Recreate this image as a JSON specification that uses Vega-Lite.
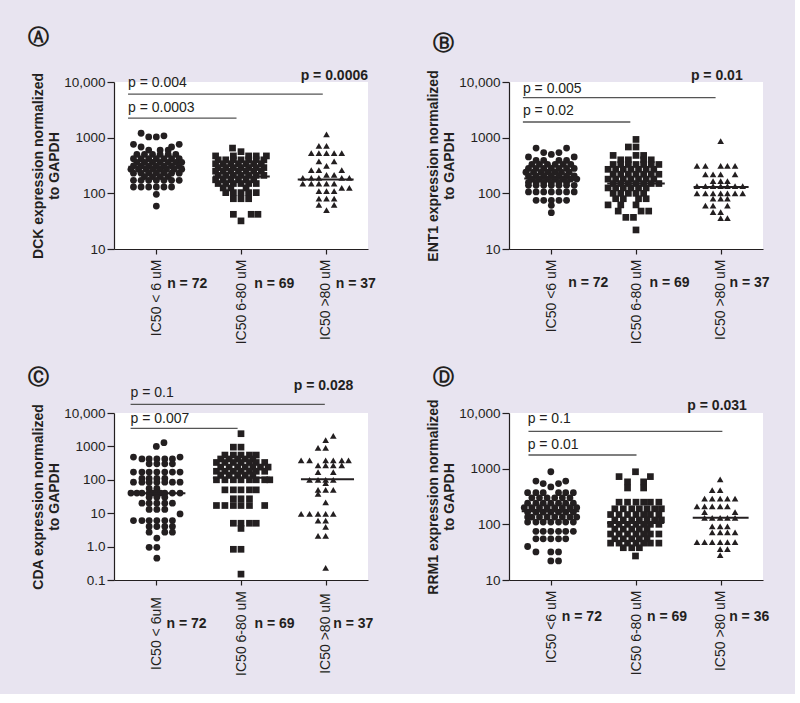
{
"$schema":"https://vega.github.io/schema/vega-lite/v6.json",
"background":"#e8e4f0",
"padding":{"left":27,"top":27,"right":25,"bottom":18},
"columns":2,
"spacing":{"row":164,"column":141},
"bounds":"flush",
"concat":[
{
"width":254,"height":167,
"title":{"text":"Ⓐ","offset":21,"dx":-4},
"encoding":{
"x":{"field":"x","type":"quantitative","scale":{"domain":[0.5,3.5],"nice":false,"zero":false},"axis":{"title":null,"values":[1,2,3],"labelExpr":"datum.value == 1 ? 'IC50 < 6 uM' : datum.value == 2 ? 'IC50 6-80 uM' : 'IC50 >80 uM'"}},
"y":{"field":"y","type":"quantitative","scale":{"type":"log","domain":[10,10000],"nice":false},"axis":{"title":["DCK expression normalized","to GAPDH"],"values":[10,100,1000,10000],"labelExpr":"datum.value == 10000 ? '10,000' : format(datum.value, '~g')"}}
},
"layer":[
{"data":{"values":[
{"g":1,"x":0.82,"y":1200},{"g":1,"x":0.91,"y":1030},{"g":1,"x":1.0,"y":1030},{"g":1,"x":1.09,"y":1080},
{"g":1,"x":0.73,"y":760},{"g":1,"x":1.27,"y":760},{"g":1,"x":0.82,"y":680},{"g":1,"x":1.18,"y":680},
{"g":1,"x":0.91,"y":600},{"g":1,"x":1.045,"y":600},{"g":1,"x":1.14,"y":600},
{"g":1,"x":0.77,"y":500},{"g":1,"x":0.86,"y":500},{"g":1,"x":0.955,"y":500},{"g":1,"x":1.045,"y":500},{"g":1,"x":1.14,"y":500},{"g":1,"x":1.23,"y":500},
{"g":1,"x":0.73,"y":420},{"g":1,"x":0.82,"y":420},{"g":1,"x":0.91,"y":420},{"g":1,"x":1.0,"y":420},{"g":1,"x":1.09,"y":420},{"g":1,"x":1.18,"y":420},{"g":1,"x":1.27,"y":420},
{"g":1,"x":0.77,"y":360},{"g":1,"x":0.86,"y":360},{"g":1,"x":0.955,"y":360},{"g":1,"x":1.045,"y":360},{"g":1,"x":1.14,"y":360},{"g":1,"x":1.23,"y":360},{"g":1,"x":1.3,"y":360},
{"g":1,"x":0.73,"y":310},{"g":1,"x":0.82,"y":310},{"g":1,"x":0.91,"y":310},{"g":1,"x":1.0,"y":310},{"g":1,"x":1.09,"y":310},{"g":1,"x":1.18,"y":310},{"g":1,"x":1.27,"y":310},
{"g":1,"x":0.7,"y":270},{"g":1,"x":0.79,"y":270},{"g":1,"x":0.88,"y":270},{"g":1,"x":0.96,"y":270},{"g":1,"x":1.04,"y":270},{"g":1,"x":1.12,"y":270},{"g":1,"x":1.21,"y":270},{"g":1,"x":1.3,"y":270},
{"g":1,"x":0.73,"y":230},{"g":1,"x":0.82,"y":230},{"g":1,"x":0.91,"y":230},{"g":1,"x":1.0,"y":230},{"g":1,"x":1.09,"y":230},{"g":1,"x":1.18,"y":230},{"g":1,"x":1.27,"y":230},
{"g":1,"x":0.86,"y":200},{"g":1,"x":0.955,"y":200},{"g":1,"x":1.045,"y":200},{"g":1,"x":1.14,"y":200},
{"g":1,"x":0.73,"y":171},{"g":1,"x":0.82,"y":171},{"g":1,"x":0.91,"y":171},{"g":1,"x":1.0,"y":171},{"g":1,"x":1.09,"y":171},{"g":1,"x":1.18,"y":171},{"g":1,"x":1.27,"y":171},
{"g":1,"x":0.73,"y":130},{"g":1,"x":0.82,"y":130},{"g":1,"x":0.91,"y":130},{"g":1,"x":1.0,"y":130},{"g":1,"x":1.09,"y":130},{"g":1,"x":1.18,"y":130},
{"g":1,"x":1.0,"y":96},{"g":1,"x":1.0,"y":59},
{"g":2,"x":1.9,"y":650},{"g":2,"x":2.0,"y":560},
{"g":2,"x":1.7,"y":470},{"g":2,"x":1.91,"y":470},{"g":2,"x":2.09,"y":470},{"g":2,"x":2.18,"y":470},{"g":2,"x":2.3,"y":470},
{"g":2,"x":1.73,"y":400},{"g":2,"x":1.82,"y":400},{"g":2,"x":1.91,"y":400},{"g":2,"x":2.0,"y":400},{"g":2,"x":2.09,"y":400},{"g":2,"x":2.18,"y":400},{"g":2,"x":2.27,"y":400},
{"g":2,"x":1.7,"y":340},{"g":2,"x":1.79,"y":340},{"g":2,"x":1.88,"y":340},{"g":2,"x":1.97,"y":340},{"g":2,"x":2.06,"y":340},{"g":2,"x":2.15,"y":340},{"g":2,"x":2.24,"y":340},
{"g":2,"x":1.73,"y":290},{"g":2,"x":1.82,"y":290},{"g":2,"x":1.91,"y":290},{"g":2,"x":2.0,"y":290},{"g":2,"x":2.09,"y":290},{"g":2,"x":2.18,"y":290},{"g":2,"x":2.27,"y":290},
{"g":2,"x":1.7,"y":250},{"g":2,"x":1.79,"y":250},{"g":2,"x":1.88,"y":250},{"g":2,"x":1.97,"y":250},{"g":2,"x":2.06,"y":250},{"g":2,"x":2.15,"y":250},{"g":2,"x":2.24,"y":250},
{"g":2,"x":1.73,"y":210},{"g":2,"x":1.82,"y":210},{"g":2,"x":1.91,"y":210},{"g":2,"x":2.0,"y":210},{"g":2,"x":2.09,"y":210},{"g":2,"x":2.18,"y":210},{"g":2,"x":2.27,"y":210},
{"g":2,"x":1.7,"y":175},{"g":2,"x":1.79,"y":175},{"g":2,"x":1.88,"y":175},{"g":2,"x":1.97,"y":175},{"g":2,"x":2.06,"y":175},{"g":2,"x":2.15,"y":175},
{"g":2,"x":1.73,"y":150},{"g":2,"x":1.82,"y":150},{"g":2,"x":1.91,"y":150},{"g":2,"x":2.0,"y":150},{"g":2,"x":2.09,"y":150},{"g":2,"x":2.18,"y":150},
{"g":2,"x":1.79,"y":125},{"g":2,"x":1.88,"y":125},{"g":2,"x":2.06,"y":125},
{"g":2,"x":1.82,"y":103},{"g":2,"x":1.91,"y":103},{"g":2,"x":2.0,"y":103},{"g":2,"x":2.09,"y":103},{"g":2,"x":2.18,"y":103},
{"g":2,"x":1.91,"y":80},{"g":2,"x":2.0,"y":80},{"g":2,"x":2.09,"y":80},
{"g":2,"x":1.91,"y":42},{"g":2,"x":2.12,"y":42},{"g":2,"x":2.2,"y":42},{"g":2,"x":2.0,"y":32},
{"g":3,"x":3.01,"y":1150},{"g":3,"x":2.92,"y":710},{"g":3,"x":3.01,"y":710},
{"g":3,"x":2.83,"y":530},{"g":3,"x":2.92,"y":530},{"g":3,"x":3.01,"y":530},{"g":3,"x":3.1,"y":530},{"g":3,"x":3.19,"y":530},
{"g":3,"x":2.92,"y":375},{"g":3,"x":3.1,"y":375},{"g":3,"x":3.01,"y":310},
{"g":3,"x":2.83,"y":260},{"g":3,"x":2.92,"y":260},{"g":3,"x":3.19,"y":260},
{"g":3,"x":3.01,"y":215},{"g":3,"x":3.1,"y":215},
{"g":3,"x":2.73,"y":190},{"g":3,"x":2.83,"y":190},{"g":3,"x":2.92,"y":190},{"g":3,"x":3.19,"y":190},{"g":3,"x":3.28,"y":190},
{"g":3,"x":2.73,"y":150},{"g":3,"x":2.83,"y":150},{"g":3,"x":2.92,"y":150},{"g":3,"x":3.01,"y":150},{"g":3,"x":3.1,"y":150},
{"g":3,"x":3.19,"y":125},{"g":3,"x":3.28,"y":125},
{"g":3,"x":2.92,"y":110},{"g":3,"x":3.01,"y":110},{"g":3,"x":3.1,"y":110},
{"g":3,"x":2.92,"y":80},{"g":3,"x":3.01,"y":80},{"g":3,"x":3.1,"y":80},
{"g":3,"x":2.92,"y":62},{"g":3,"x":3.1,"y":62},{"g":3,"x":3.01,"y":50}
]},
"mark":{"type":"point","filled":true,"opacity":1,"color":"#231f20"},
"encoding":{"shape":{"field":"g","type":"nominal","scale":{"domain":[1,2,3],"range":["circle","square","triangle-up"]},"legend":null},"size":{"field":"g","type":"ordinal","scale":{"domain":[1,2,3],"range":[46,44,58]},"legend":null}}},
{"data":{"values":[{"x":0.67,"x2":1.33,"y":300},{"x":1.67,"x2":2.34,"y":200},{"x":2.67,"x2":3.33,"y":178}]},"mark":{"type":"rule","color":"#231f20","strokeWidth":2},"encoding":{"x2":{"field":"x2"}}},
{"data":{"values":[{"x":0.666,"x2":2.966,"y":6080},{"x":0.666,"x2":1.947,"y":2250}]},"mark":{"type":"rule","color":"#555555","strokeWidth":1.3},"encoding":{"x2":{"field":"x2"}}},
{"data":{"values":[{"x":0.666,"y":9550,"t":"p = 0.004"},{"x":0.666,"y":3410,"t":"p = 0.0003"}]},"mark":{"type":"text","align":"left","baseline":"middle"},"encoding":{"text":{"field":"t"}}},
{"data":{"values":[{"x":3.5,"y":12800,"t":"p = 0.0006"}]},"mark":{"type":"text","align":"right","baseline":"middle","fontWeight":"bold"},"encoding":{"text":{"field":"t"}}},
{"data":{"values":[{"x":1.128,"y":2.35,"t":"n = 72"},{"x":2.157,"y":2.35,"t":"n = 69"},{"x":3.12,"y":2.35,"t":"n = 37"}]},"mark":{"type":"text","align":"left","baseline":"middle","fontWeight":"bold"},"encoding":{"text":{"field":"t"}}}
]
},
{
"width":254,"height":167,
"title":{"text":"Ⓑ","offset":15,"dx":6},
"encoding":{
"x":{"field":"x","type":"quantitative","scale":{"domain":[0.5,3.5],"nice":false,"zero":false},"axis":{"title":null,"values":[1,2,3],"labelExpr":"datum.value == 1 ? 'IC50 <6 uM' : datum.value == 2 ? 'IC50 6-80 uM' : 'IC50 >80 uM'"}},
"y":{"field":"y","type":"quantitative","scale":{"type":"log","domain":[10,10000],"nice":false},"axis":{"title":["ENT1 expression normalized","to GAPDH"],"values":[10,100,1000,10000],"labelExpr":"datum.value == 10000 ? '10,000' : format(datum.value, '~g')"}}
},
"layer":[
{"data":{"values":[
{"g":1,"x":0.82,"y":650},{"g":1,"x":1.18,"y":650},{"g":1,"x":0.91,"y":540},{"g":1,"x":1.09,"y":540},{"g":1,"x":1.0,"y":500},
{"g":1,"x":0.73,"y":450},{"g":1,"x":1.27,"y":450},
{"g":1,"x":0.82,"y":390},{"g":1,"x":0.91,"y":390},{"g":1,"x":1.09,"y":390},{"g":1,"x":1.18,"y":390},
{"g":1,"x":0.77,"y":330},{"g":1,"x":0.86,"y":330},{"g":1,"x":0.955,"y":330},{"g":1,"x":1.045,"y":330},{"g":1,"x":1.14,"y":330},{"g":1,"x":1.23,"y":330},
{"g":1,"x":0.73,"y":280},{"g":1,"x":0.82,"y":280},{"g":1,"x":0.91,"y":280},{"g":1,"x":1.0,"y":280},{"g":1,"x":1.09,"y":280},{"g":1,"x":1.18,"y":280},{"g":1,"x":1.27,"y":280},
{"g":1,"x":0.7,"y":240},{"g":1,"x":0.79,"y":240},{"g":1,"x":0.88,"y":240},{"g":1,"x":0.96,"y":240},{"g":1,"x":1.04,"y":240},{"g":1,"x":1.12,"y":240},{"g":1,"x":1.21,"y":240},
{"g":1,"x":0.73,"y":205},{"g":1,"x":0.82,"y":205},{"g":1,"x":0.91,"y":205},{"g":1,"x":1.0,"y":205},{"g":1,"x":1.09,"y":205},{"g":1,"x":1.18,"y":205},{"g":1,"x":1.27,"y":205},
{"g":1,"x":0.77,"y":180},{"g":1,"x":0.86,"y":180},{"g":1,"x":0.955,"y":180},{"g":1,"x":1.045,"y":180},{"g":1,"x":1.14,"y":180},{"g":1,"x":1.23,"y":180},{"g":1,"x":1.3,"y":180},
{"g":1,"x":0.73,"y":158},{"g":1,"x":0.82,"y":158},{"g":1,"x":0.91,"y":158},{"g":1,"x":1.0,"y":158},{"g":1,"x":1.09,"y":158},{"g":1,"x":1.18,"y":158},
{"g":1,"x":0.73,"y":139},{"g":1,"x":0.82,"y":139},{"g":1,"x":0.91,"y":139},{"g":1,"x":1.0,"y":139},{"g":1,"x":1.09,"y":139},{"g":1,"x":1.18,"y":139},{"g":1,"x":1.27,"y":139},
{"g":1,"x":0.73,"y":106},{"g":1,"x":0.82,"y":106},{"g":1,"x":0.91,"y":106},{"g":1,"x":1.0,"y":106},{"g":1,"x":1.09,"y":106},{"g":1,"x":1.18,"y":106},{"g":1,"x":1.27,"y":106},
{"g":1,"x":0.82,"y":75},{"g":1,"x":0.91,"y":75},{"g":1,"x":1.0,"y":75},{"g":1,"x":1.09,"y":75},{"g":1,"x":1.18,"y":75},
{"g":1,"x":1.0,"y":61},{"g":1,"x":1.0,"y":45},
{"g":2,"x":2.0,"y":930},{"g":2,"x":1.91,"y":680},{"g":2,"x":2.0,"y":680},
{"g":2,"x":1.73,"y":480},{"g":2,"x":2.0,"y":480},{"g":2,"x":2.09,"y":480},
{"g":2,"x":1.82,"y":400},{"g":2,"x":1.91,"y":400},{"g":2,"x":2.09,"y":400},{"g":2,"x":2.18,"y":400},
{"g":2,"x":1.73,"y":330},{"g":2,"x":1.82,"y":330},{"g":2,"x":1.91,"y":330},{"g":2,"x":2.0,"y":330},{"g":2,"x":2.09,"y":330},{"g":2,"x":2.18,"y":330},{"g":2,"x":2.27,"y":330},
{"g":2,"x":1.67,"y":270},{"g":2,"x":1.76,"y":270},{"g":2,"x":1.85,"y":270},{"g":2,"x":1.94,"y":270},{"g":2,"x":2.03,"y":270},{"g":2,"x":2.12,"y":270},{"g":2,"x":2.21,"y":270},
{"g":2,"x":1.73,"y":220},{"g":2,"x":1.82,"y":220},{"g":2,"x":1.91,"y":220},{"g":2,"x":2.0,"y":220},{"g":2,"x":2.09,"y":220},{"g":2,"x":2.18,"y":220},{"g":2,"x":2.27,"y":220},
{"g":2,"x":1.67,"y":180},{"g":2,"x":1.76,"y":180},{"g":2,"x":1.85,"y":180},{"g":2,"x":1.94,"y":180},{"g":2,"x":2.03,"y":180},{"g":2,"x":2.12,"y":180},{"g":2,"x":2.21,"y":180},
{"g":2,"x":1.73,"y":150},{"g":2,"x":1.82,"y":150},{"g":2,"x":1.91,"y":150},{"g":2,"x":2.0,"y":150},{"g":2,"x":2.09,"y":150},{"g":2,"x":2.18,"y":150},{"g":2,"x":2.27,"y":150},
{"g":2,"x":1.67,"y":125},{"g":2,"x":1.76,"y":125},{"g":2,"x":1.85,"y":125},{"g":2,"x":1.94,"y":125},{"g":2,"x":2.03,"y":125},{"g":2,"x":2.12,"y":125},
{"g":2,"x":1.73,"y":100},{"g":2,"x":1.82,"y":100},{"g":2,"x":1.91,"y":100},{"g":2,"x":2.0,"y":100},{"g":2,"x":2.09,"y":100},
{"g":2,"x":1.76,"y":80},{"g":2,"x":1.85,"y":80},{"g":2,"x":2.03,"y":80},{"g":2,"x":2.12,"y":80},
{"g":2,"x":1.67,"y":62},{"g":2,"x":1.82,"y":62},{"g":2,"x":2.0,"y":62},
{"g":2,"x":1.79,"y":48},{"g":2,"x":2.06,"y":48},{"g":2,"x":2.15,"y":48},
{"g":2,"x":1.88,"y":37},{"g":2,"x":1.97,"y":37},{"g":2,"x":2.0,"y":22},
{"g":3,"x":3.0,"y":870},
{"g":3,"x":2.72,"y":310},{"g":3,"x":2.82,"y":310},{"g":3,"x":3.0,"y":310},{"g":3,"x":3.08,"y":310},{"g":3,"x":3.17,"y":310},
{"g":3,"x":2.82,"y":220},{"g":3,"x":2.91,"y":220},{"g":3,"x":3.0,"y":220},{"g":3,"x":3.17,"y":220},
{"g":3,"x":2.91,"y":165},{"g":3,"x":3.0,"y":165},{"g":3,"x":3.08,"y":165},
{"g":3,"x":2.72,"y":135},{"g":3,"x":2.82,"y":135},{"g":3,"x":2.91,"y":135},{"g":3,"x":3.0,"y":135},{"g":3,"x":3.08,"y":135},{"g":3,"x":3.17,"y":135},{"g":3,"x":3.26,"y":135},
{"g":3,"x":2.72,"y":100},{"g":3,"x":2.82,"y":100},{"g":3,"x":2.91,"y":100},{"g":3,"x":3.0,"y":100},{"g":3,"x":3.08,"y":100},{"g":3,"x":3.17,"y":100},{"g":3,"x":3.26,"y":100},
{"g":3,"x":2.91,"y":80},{"g":3,"x":3.0,"y":80},{"g":3,"x":3.08,"y":80},
{"g":3,"x":2.82,"y":60},{"g":3,"x":2.91,"y":60},{"g":3,"x":3.08,"y":60},
{"g":3,"x":2.91,"y":46},{"g":3,"x":3.0,"y":46},{"g":3,"x":3.0,"y":36},{"g":3,"x":3.08,"y":36}
]},
"mark":{"type":"point","filled":true,"opacity":1,"color":"#231f20"},
"encoding":{"shape":{"field":"g","type":"nominal","scale":{"domain":[1,2,3],"range":["circle","square","triangle-up"]},"legend":null},"size":{"field":"g","type":"ordinal","scale":{"domain":[1,2,3],"range":[46,44,58]},"legend":null}}},
{"data":{"values":[{"x":0.68,"x2":1.34,"y":185},{"x":1.66,"x2":2.34,"y":150},{"x":2.68,"x2":3.33,"y":130}]},"mark":{"type":"rule","color":"#231f20","strokeWidth":2},"encoding":{"x2":{"field":"x2"}}},
{"data":{"values":[{"x":0.664,"x2":2.94,"y":5220},{"x":0.664,"x2":1.933,"y":1910}]},"mark":{"type":"rule","color":"#555555","strokeWidth":1.3},"encoding":{"x2":{"field":"x2"}}},
{"data":{"values":[{"x":0.664,"y":7600,"t":"p = 0.005"},{"x":0.664,"y":3010,"t":"p = 0.02"}]},"mark":{"type":"text","align":"left","baseline":"middle"},"encoding":{"text":{"field":"t"}}},
{"data":{"values":[{"x":3.26,"y":12800,"t":"p = 0.01"}]},"mark":{"type":"text","align":"right","baseline":"middle","fontWeight":"bold"},"encoding":{"text":{"field":"t"}}},
{"data":{"values":[{"x":1.2,"y":2.45,"t":"n = 72"},{"x":2.16,"y":2.45,"t":"n = 69"},{"x":3.105,"y":2.45,"t":"n = 37"}]},"mark":{"type":"text","align":"left","baseline":"middle","fontWeight":"bold"},"encoding":{"text":{"field":"t"}}}
]
},
{
"width":254,"height":167,
"title":{"text":"Ⓒ","offset":-9,"dx":-4},
"encoding":{
"x":{"field":"x","type":"quantitative","scale":{"domain":[0.5,3.5],"nice":false,"zero":false},"axis":{"title":null,"values":[1,2,3],"labelAlign":"center","labelPadding":48,"labelExpr":"datum.value == 1 ? 'IC50 < 6uM' : datum.value == 2 ? 'IC50 6-80 uM' : 'IC50 >80 uM'"}},
"y":{"field":"y","type":"quantitative","scale":{"type":"log","domain":[0.1,10000],"nice":false},"axis":{"title":["CDA expression normalized","to GAPDH"],"values":[0.1,1,10,100,1000,10000],"labelExpr":"datum.value == 10000 ? '10,000' : datum.value == 1 ? '1.0' : format(datum.value, '~g')"}}
},
"layer":[
{"data":{"values":[
{"g":1,"x":1.09,"y":1290},{"g":1,"x":1.0,"y":1000},{"g":1,"x":0.73,"y":480},{"g":1,"x":1.28,"y":480},
{"g":1,"x":0.83,"y":420},{"g":1,"x":0.915,"y":420},{"g":1,"x":1.006,"y":420},{"g":1,"x":1.1,"y":420},{"g":1,"x":1.19,"y":420},
{"g":1,"x":0.915,"y":300},{"g":1,"x":1.006,"y":300},{"g":1,"x":1.1,"y":300},{"g":1,"x":1.19,"y":300},
{"g":1,"x":0.73,"y":170},{"g":1,"x":0.83,"y":170},{"g":1,"x":0.915,"y":170},{"g":1,"x":1.006,"y":170},{"g":1,"x":1.1,"y":170},{"g":1,"x":1.19,"y":170},{"g":1,"x":1.28,"y":170},
{"g":1,"x":0.83,"y":110},{"g":1,"x":0.915,"y":110},{"g":1,"x":1.006,"y":110},{"g":1,"x":1.1,"y":110},
{"g":1,"x":0.73,"y":85},{"g":1,"x":0.83,"y":85},{"g":1,"x":0.915,"y":85},{"g":1,"x":1.006,"y":85},{"g":1,"x":1.1,"y":85},{"g":1,"x":1.19,"y":85},{"g":1,"x":1.28,"y":85},
{"g":1,"x":0.915,"y":55},{"g":1,"x":1.006,"y":55},
{"g":1,"x":0.7,"y":40},{"g":1,"x":0.77,"y":40},{"g":1,"x":0.83,"y":40},{"g":1,"x":0.915,"y":40},{"g":1,"x":0.96,"y":40},{"g":1,"x":1.006,"y":40},{"g":1,"x":1.05,"y":40},{"g":1,"x":1.1,"y":40},{"g":1,"x":1.19,"y":40},{"g":1,"x":1.28,"y":40},
{"g":1,"x":0.915,"y":30},{"g":1,"x":1.006,"y":30},{"g":1,"x":1.1,"y":30},
{"g":1,"x":0.83,"y":20},{"g":1,"x":0.915,"y":20},{"g":1,"x":1.006,"y":20},{"g":1,"x":1.1,"y":20},{"g":1,"x":1.19,"y":20},
{"g":1,"x":0.915,"y":13},{"g":1,"x":1.006,"y":13},{"g":1,"x":1.1,"y":13},{"g":1,"x":1.28,"y":9.5},
{"g":1,"x":0.73,"y":6},{"g":1,"x":0.83,"y":6},{"g":1,"x":0.915,"y":6},{"g":1,"x":1.006,"y":6},{"g":1,"x":1.1,"y":6},{"g":1,"x":1.19,"y":6},
{"g":1,"x":0.915,"y":4},{"g":1,"x":1.006,"y":4},{"g":1,"x":1.1,"y":4},{"g":1,"x":1.19,"y":4},
{"g":1,"x":0.915,"y":2.7},{"g":1,"x":1.1,"y":2.7},{"g":1,"x":1.19,"y":2.7},
{"g":1,"x":1.006,"y":1.8},{"g":1,"x":0.915,"y":0.95},{"g":1,"x":1.006,"y":0.95},{"g":1,"x":1.006,"y":0.45},
{"g":2,"x":2.0,"y":2400},{"g":2,"x":1.91,"y":950},{"g":2,"x":2.0,"y":950},
{"g":2,"x":1.81,"y":550},{"g":2,"x":1.91,"y":550},{"g":2,"x":2.0,"y":550},{"g":2,"x":2.1,"y":550},{"g":2,"x":2.18,"y":550},
{"g":2,"x":1.76,"y":420},{"g":2,"x":1.86,"y":420},{"g":2,"x":1.96,"y":420},{"g":2,"x":2.05,"y":420},{"g":2,"x":2.14,"y":420},
{"g":2,"x":1.71,"y":330},{"g":2,"x":1.81,"y":330},{"g":2,"x":1.91,"y":330},{"g":2,"x":2.0,"y":330},{"g":2,"x":2.1,"y":330},{"g":2,"x":2.18,"y":330},{"g":2,"x":2.28,"y":330},
{"g":2,"x":1.76,"y":240},{"g":2,"x":1.86,"y":240},{"g":2,"x":1.96,"y":240},{"g":2,"x":2.05,"y":240},{"g":2,"x":2.14,"y":240},{"g":2,"x":2.23,"y":240},{"g":2,"x":2.32,"y":240},
{"g":2,"x":1.71,"y":180},{"g":2,"x":1.81,"y":180},{"g":2,"x":1.91,"y":180},{"g":2,"x":2.0,"y":180},{"g":2,"x":2.1,"y":180},{"g":2,"x":2.18,"y":180},{"g":2,"x":2.28,"y":180},
{"g":2,"x":1.76,"y":140},{"g":2,"x":1.86,"y":140},{"g":2,"x":1.96,"y":140},{"g":2,"x":2.05,"y":140},{"g":2,"x":2.14,"y":140},
{"g":2,"x":1.71,"y":100},{"g":2,"x":1.81,"y":100},{"g":2,"x":1.91,"y":100},{"g":2,"x":2.0,"y":100},{"g":2,"x":2.1,"y":100},{"g":2,"x":2.18,"y":100},{"g":2,"x":2.28,"y":100},{"g":2,"x":2.34,"y":100},
{"g":2,"x":1.81,"y":50},{"g":2,"x":1.91,"y":50},{"g":2,"x":2.0,"y":50},{"g":2,"x":2.1,"y":50},{"g":2,"x":2.18,"y":50},
{"g":2,"x":1.91,"y":27},{"g":2,"x":2.0,"y":27},{"g":2,"x":2.1,"y":27},
{"g":2,"x":1.71,"y":17},{"g":2,"x":1.81,"y":17},{"g":2,"x":1.91,"y":17},{"g":2,"x":2.0,"y":17},{"g":2,"x":2.1,"y":17},{"g":2,"x":2.28,"y":17},
{"g":2,"x":1.91,"y":5},{"g":2,"x":2.0,"y":5},{"g":2,"x":2.1,"y":5},{"g":2,"x":2.18,"y":5},
{"g":2,"x":2.0,"y":3.5},{"g":2,"x":1.91,"y":0.83},{"g":2,"x":2.0,"y":0.83},{"g":2,"x":2.0,"y":0.15},
{"g":3,"x":3.09,"y":2050},{"g":3,"x":3.0,"y":1550},{"g":3,"x":2.91,"y":900},{"g":3,"x":3.0,"y":900},
{"g":3,"x":2.71,"y":380},{"g":3,"x":2.81,"y":380},{"g":3,"x":3.0,"y":380},{"g":3,"x":3.09,"y":380},{"g":3,"x":3.19,"y":380},{"g":3,"x":3.27,"y":380},
{"g":3,"x":2.91,"y":270},{"g":3,"x":3.0,"y":270},{"g":3,"x":3.09,"y":270},{"g":3,"x":3.19,"y":270},
{"g":3,"x":2.91,"y":170},{"g":3,"x":3.09,"y":170},
{"g":3,"x":2.81,"y":100},{"g":3,"x":2.91,"y":100},{"g":3,"x":3.0,"y":100},{"g":3,"x":3.09,"y":100},
{"g":3,"x":3.0,"y":80},{"g":3,"x":2.91,"y":50},{"g":3,"x":3.0,"y":50},{"g":3,"x":3.09,"y":50},
{"g":3,"x":2.91,"y":38},{"g":3,"x":3.0,"y":21},
{"g":3,"x":2.71,"y":9.5},{"g":3,"x":2.81,"y":9.5},{"g":3,"x":2.91,"y":9.5},{"g":3,"x":3.0,"y":9.5},{"g":3,"x":3.09,"y":9.5},
{"g":3,"x":2.91,"y":6},{"g":3,"x":3.0,"y":6},{"g":3,"x":3.0,"y":3.9},
{"g":3,"x":2.91,"y":2.1},{"g":3,"x":3.0,"y":2.1},{"g":3,"x":3.0,"y":0.23}
]},
"mark":{"type":"point","filled":true,"opacity":1,"color":"#231f20"},
"encoding":{"shape":{"field":"g","type":"nominal","scale":{"domain":[1,2,3],"range":["circle","square","triangle-up"]},"legend":null},"size":{"field":"g","type":"ordinal","scale":{"domain":[1,2,3],"range":[46,44,58]},"legend":null}}},
{"data":{"values":[{"x":0.708,"x2":1.343,"y":39.5},{"x":1.668,"x2":2.343,"y":116},{"x":2.708,"x2":3.335,"y":103}]},"mark":{"type":"rule","color":"#231f20","strokeWidth":2},"encoding":{"x2":{"field":"x2"}}},
{"data":{"values":[{"x":0.696,"x2":2.99,"y":18200},{"x":0.696,"x2":1.96,"y":3480}]},"mark":{"type":"rule","color":"#555555","strokeWidth":1.3},"encoding":{"x2":{"field":"x2"}}},
{"data":{"values":[{"x":0.696,"y":40500,"t":"p = 0.1"},{"x":0.696,"y":6760,"t":"p = 0.007"}]},"mark":{"type":"text","align":"left","baseline":"middle"},"encoding":{"text":{"field":"t"}}},
{"data":{"values":[{"x":3.327,"y":64300,"t":"p = 0.028"}]},"mark":{"type":"text","align":"right","baseline":"middle","fontWeight":"bold"},"encoding":{"text":{"field":"t"}}},
{"data":{"values":[{"x":1.12,"y":0.0049,"t":"n = 72"},{"x":2.16,"y":0.0049,"t":"n = 69"},{"x":3.09,"y":0.0049,"t":"n = 37"}]},"mark":{"type":"text","align":"left","baseline":"middle","fontWeight":"bold"},"encoding":{"text":{"field":"t"}}}
]
},
{
"width":254,"height":167,
"title":{"text":"Ⓓ","offset":11,"dx":6},
"encoding":{
"x":{"field":"x","type":"quantitative","scale":{"domain":[0.5,3.5],"nice":false,"zero":false},"axis":{"title":null,"values":[1,2,3],"labelExpr":"datum.value == 1 ? 'IC50 <6 uM' : datum.value == 2 ? 'IC50 6-80 uM' : 'IC50 >80 uM'"}},
"y":{"field":"y","type":"quantitative","scale":{"type":"log","domain":[10,10000],"nice":false},"axis":{"title":["RRM1 expression normalized","to GAPDH"],"values":[10,100,1000,10000],"labelExpr":"datum.value == 10000 ? '10,000' : format(datum.value, '~g')"}}
},
"layer":[
{"data":{"values":[
{"g":1,"x":0.994,"y":880},{"g":1,"x":0.818,"y":600},{"g":1,"x":1.17,"y":600},{"g":1,"x":0.904,"y":540},{"g":1,"x":1.085,"y":540},{"g":1,"x":0.994,"y":470},
{"g":1,"x":0.72,"y":370},{"g":1,"x":0.818,"y":370},{"g":1,"x":0.904,"y":370},{"g":1,"x":1.085,"y":370},{"g":1,"x":1.17,"y":370},{"g":1,"x":1.26,"y":370},
{"g":1,"x":0.77,"y":300},{"g":1,"x":0.86,"y":300},{"g":1,"x":0.95,"y":300},{"g":1,"x":1.04,"y":300},{"g":1,"x":1.13,"y":300},{"g":1,"x":1.22,"y":300},
{"g":1,"x":0.72,"y":240},{"g":1,"x":0.818,"y":240},{"g":1,"x":0.904,"y":240},{"g":1,"x":0.994,"y":240},{"g":1,"x":1.085,"y":240},{"g":1,"x":1.17,"y":240},{"g":1,"x":1.26,"y":240},
{"g":1,"x":0.68,"y":200},{"g":1,"x":0.77,"y":200},{"g":1,"x":0.86,"y":200},{"g":1,"x":0.95,"y":200},{"g":1,"x":1.04,"y":200},{"g":1,"x":1.13,"y":200},{"g":1,"x":1.22,"y":200},{"g":1,"x":1.3,"y":200},
{"g":1,"x":0.72,"y":165},{"g":1,"x":0.818,"y":165},{"g":1,"x":0.904,"y":165},{"g":1,"x":0.994,"y":165},{"g":1,"x":1.085,"y":165},{"g":1,"x":1.17,"y":165},{"g":1,"x":1.26,"y":165},
{"g":1,"x":0.72,"y":135},{"g":1,"x":0.77,"y":135},{"g":1,"x":0.86,"y":135},{"g":1,"x":0.95,"y":135},{"g":1,"x":1.04,"y":135},{"g":1,"x":1.13,"y":135},{"g":1,"x":1.22,"y":135},{"g":1,"x":1.3,"y":135},
{"g":1,"x":0.72,"y":110},{"g":1,"x":0.818,"y":110},{"g":1,"x":0.904,"y":110},{"g":1,"x":0.994,"y":110},{"g":1,"x":1.085,"y":110},{"g":1,"x":1.17,"y":110},{"g":1,"x":1.26,"y":110},
{"g":1,"x":0.818,"y":75},{"g":1,"x":0.904,"y":75},{"g":1,"x":0.994,"y":75},{"g":1,"x":1.085,"y":75},{"g":1,"x":1.17,"y":75},{"g":1,"x":1.26,"y":75},
{"g":1,"x":0.818,"y":55},{"g":1,"x":0.904,"y":55},{"g":1,"x":0.994,"y":55},{"g":1,"x":1.085,"y":55},{"g":1,"x":1.17,"y":55},
{"g":1,"x":0.72,"y":40},{"g":1,"x":0.818,"y":32},{"g":1,"x":0.994,"y":32},{"g":1,"x":1.085,"y":32},{"g":1,"x":0.994,"y":22},{"g":1,"x":1.085,"y":22},
{"g":2,"x":1.994,"y":880},{"g":2,"x":1.8,"y":720},{"g":2,"x":2.17,"y":720},{"g":2,"x":1.9,"y":580},{"g":2,"x":2.09,"y":580},{"g":2,"x":1.9,"y":450},{"g":2,"x":2.09,"y":450},
{"g":2,"x":1.8,"y":250},{"g":2,"x":1.9,"y":250},{"g":2,"x":2.0,"y":250},{"g":2,"x":2.09,"y":250},{"g":2,"x":2.17,"y":250},{"g":2,"x":2.27,"y":250},
{"g":2,"x":1.75,"y":190},{"g":2,"x":1.85,"y":190},{"g":2,"x":1.95,"y":190},{"g":2,"x":2.04,"y":190},{"g":2,"x":2.13,"y":190},{"g":2,"x":2.22,"y":190},{"g":2,"x":2.3,"y":190},
{"g":2,"x":1.7,"y":150},{"g":2,"x":1.8,"y":150},{"g":2,"x":1.9,"y":150},{"g":2,"x":2.0,"y":150},{"g":2,"x":2.09,"y":150},{"g":2,"x":2.17,"y":150},{"g":2,"x":2.27,"y":150},
{"g":2,"x":1.75,"y":120},{"g":2,"x":1.85,"y":120},{"g":2,"x":1.95,"y":120},{"g":2,"x":2.04,"y":120},{"g":2,"x":2.13,"y":120},{"g":2,"x":2.22,"y":120},{"g":2,"x":2.3,"y":120},
{"g":2,"x":1.7,"y":100},{"g":2,"x":1.8,"y":100},{"g":2,"x":1.9,"y":100},{"g":2,"x":2.0,"y":100},{"g":2,"x":2.09,"y":100},{"g":2,"x":2.17,"y":100},{"g":2,"x":2.27,"y":100},
{"g":2,"x":1.75,"y":82},{"g":2,"x":1.85,"y":82},{"g":2,"x":1.95,"y":82},{"g":2,"x":2.04,"y":82},{"g":2,"x":2.13,"y":82},
{"g":2,"x":1.7,"y":67},{"g":2,"x":1.8,"y":67},{"g":2,"x":1.9,"y":67},{"g":2,"x":2.0,"y":67},{"g":2,"x":2.09,"y":67},{"g":2,"x":2.17,"y":67},{"g":2,"x":2.27,"y":67},
{"g":2,"x":1.75,"y":55},{"g":2,"x":1.85,"y":55},{"g":2,"x":1.95,"y":55},{"g":2,"x":2.04,"y":55},{"g":2,"x":2.13,"y":55},
{"g":2,"x":1.7,"y":46},{"g":2,"x":1.8,"y":46},{"g":2,"x":1.9,"y":46},{"g":2,"x":2.0,"y":46},{"g":2,"x":2.09,"y":46},{"g":2,"x":2.17,"y":46},{"g":2,"x":2.27,"y":46},
{"g":2,"x":1.85,"y":38},{"g":2,"x":1.95,"y":38},{"g":2,"x":2.04,"y":38},{"g":2,"x":1.994,"y":27},
{"g":3,"x":2.994,"y":640},{"g":3,"x":2.9,"y":410},{"g":3,"x":2.994,"y":410},
{"g":3,"x":2.81,"y":290},{"g":3,"x":2.9,"y":290},{"g":3,"x":2.994,"y":290},{"g":3,"x":3.08,"y":290},{"g":3,"x":3.17,"y":290},
{"g":3,"x":2.72,"y":210},{"g":3,"x":2.81,"y":210},{"g":3,"x":2.9,"y":210},{"g":3,"x":2.994,"y":210},{"g":3,"x":3.08,"y":210},
{"g":3,"x":2.81,"y":165},{"g":3,"x":3.17,"y":165},
{"g":3,"x":2.81,"y":130},{"g":3,"x":2.9,"y":130},{"g":3,"x":2.994,"y":130},{"g":3,"x":3.08,"y":130},{"g":3,"x":3.17,"y":130},
{"g":3,"x":2.9,"y":92},{"g":3,"x":2.994,"y":92},{"g":3,"x":3.08,"y":92},
{"g":3,"x":2.9,"y":72},{"g":3,"x":2.994,"y":72},{"g":3,"x":3.08,"y":72},{"g":3,"x":3.17,"y":72},
{"g":3,"x":2.72,"y":48},{"g":3,"x":2.81,"y":48},{"g":3,"x":2.9,"y":48},{"g":3,"x":2.994,"y":48},{"g":3,"x":3.08,"y":48},{"g":3,"x":3.17,"y":48},
{"g":3,"x":2.994,"y":36},{"g":3,"x":3.08,"y":36},{"g":3,"x":2.994,"y":28}
]},
"mark":{"type":"point","filled":true,"opacity":1,"color":"#231f20"},
"encoding":{"shape":{"field":"g","type":"nominal","scale":{"domain":[1,2,3],"range":["circle","square","triangle-up"]},"legend":null},"size":{"field":"g","type":"ordinal","scale":{"domain":[1,2,3],"range":[46,44,58]},"legend":null}}},
{"data":{"values":[{"x":0.65,"x2":1.33,"y":171},{"x":1.66,"x2":2.33,"y":106},{"x":2.67,"x2":3.33,"y":131}]},"mark":{"type":"rule","color":"#231f20","strokeWidth":2},"encoding":{"x2":{"field":"x2"}}},
{"data":{"values":[{"x":0.73,"x2":3.02,"y":4690},{"x":0.73,"x2":2.006,"y":1760}]},"mark":{"type":"rule","color":"#555555","strokeWidth":1.3},"encoding":{"x2":{"field":"x2"}}},
{"data":{"values":[{"x":0.72,"y":7800,"t":"p = 0.1"},{"x":0.72,"y":2690,"t":"p = 0.01"}]},"mark":{"type":"text","align":"left","baseline":"middle"},"encoding":{"text":{"field":"t"}}},
{"data":{"values":[{"x":3.31,"y":13500,"t":"p = 0.031"}]},"mark":{"type":"text","align":"right","baseline":"middle","fontWeight":"bold"},"encoding":{"text":{"field":"t"}}},
{"data":{"values":[{"x":1.124,"y":2.14,"t":"n = 72"},{"x":2.13,"y":2.14,"t":"n = 69"},{"x":3.1,"y":2.14,"t":"n = 36"}]},"mark":{"type":"text","align":"left","baseline":"middle","fontWeight":"bold"},"encoding":{"text":{"field":"t"}}}
]
}
],
"config":{
"view":{"fill":"white","stroke":null},
"font":"Liberation Sans",
"axis":{"domainColor":"#231f20","tickColor":"#231f20","labelColor":"#231f20","titleColor":"#231f20","labelFont":"Liberation Sans","titleFont":"Liberation Sans","labelFontSize":13.5,"titleFontSize":14,"titleFontWeight":"bold","grid":false,"domainWidth":1.2,"tickWidth":1.2,"labelOverlap":false,"labelFlush":false},
"axisY":{"tickSize":7,"labelPadding":2,"titlePadding":2,"titleLineHeight":16},
"axisX":{"tickSize":5,"labelAngle":-90,"labelPadding":5,"labelFontSize":14},
"text":{"font":"Liberation Sans","fontSize":14,"color":"#231f20"},
"title":{"anchor":"start","frame":"bounds","font":"DejaVu Sans","fontSize":21,"fontWeight":"bold","color":"#231f20"}
}
}
